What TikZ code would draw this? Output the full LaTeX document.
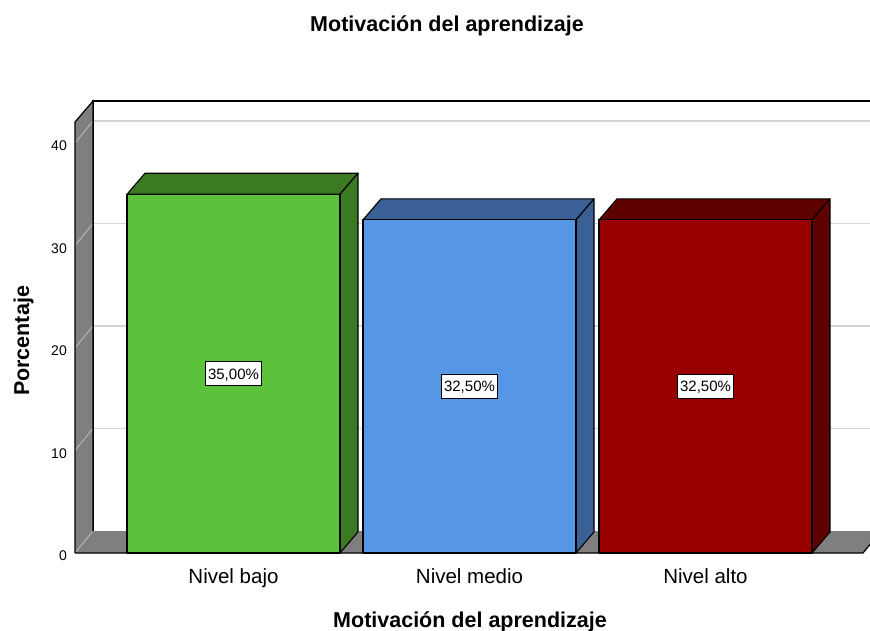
\documentclass[tikz,border=0pt]{standalone}
\usepackage{fontspec}
\setmainfont{Liberation Sans}
\usetikzlibrary{positioning}
\definecolor{wallgray}{HTML}{7F7F7F}
\definecolor{gridgray}{HTML}{D4D4D4}
\definecolor{sidegrid}{HTML}{B4B4B4}
\definecolor{bajoFront}{HTML}{5CC13B}
\definecolor{bajoDark}{HTML}{3B7A23}
\definecolor{medioFront}{HTML}{5596E5}
\definecolor{medioDark}{HTML}{3A6095}
\definecolor{altoFront}{HTML}{990000}
\definecolor{altoDark}{HTML}{5E0000}
\tikzset{
wall/.style={ % gray side wall and floor
fill=wallgray},
grid line/.style={ % lines on the back wall
draw=gridgray, line width=1.5pt},
side grid/.style={draw=sidegrid, line width=1pt},
frame/.style={draw=black, line width=1.2pt},
bar face/.style={ % each face of a bar
draw=black, line width=1.1pt, line join=round},
value label/.style={draw=black, fill=white, line width=1pt,
font=\fontsize{15}{17}\selectfont, inner xsep=3pt, inner ysep=6.5pt,
text height=11pt, text depth=0pt},
tick label/.style={anchor=east, inner sep=1pt,
font=\fontsize{14}{16}\selectfont},
category label/.style={anchor=base, font=\fontsize{20.5}{24}\selectfont},
axis title/.style={anchor=base, font=\fontsize{21.5}{24}\selectfont\bfseries}}

\begin{document}
\begin{tikzpicture}[x=1pt, y=-1pt]
	\useasboundingbox (0,0) rectangle (870,631);
	\clip (0,0) rectangle (870,631);
	% back wall
	\foreach \v in {10,20,30,40}
		\draw[grid line] (93,{531-10.25*\v}) -- (870,{531-10.25*\v});
	\draw[frame] (870,101) -- (93,101) -- (93,531);
	% left wall and floor
	\fill[wall] (75,553) -- (75,122) -- (93,101) -- (93,531) -- cycle;
	\fill[wall] (75,553) -- (93,531) -- (881,531) -- (863,553) -- cycle;
	\foreach \v in {0,10,...,40} {
		\draw[side grid] (75,{553-10.25*\v}) -- (93,{531-10.25*\v});
		\node[tick label] (tick\v) at (68,{556-10.25*\v}) {\v};
	}
	\draw[frame] (75,553) -- (75,122) -- (93,101) -- (93,531);
	\draw[frame] (75,553) -- (863,553) -- (881,531);
	% bars
	\foreach \x/\v/\fc/\dc/\lab/\cat/\id in {127/35/bajoFront/bajoDark/{35,00\%}/{Nivel bajo}/bajo,
		363/32.5/medioFront/medioDark/{32,50\%}/{Nivel medio}/medio,
		599/32.5/altoFront/altoDark/{32,50\%}/{Nivel alto}/alto} {
		\pgfmathsetmacro{\yt}{553-10.25*\v}
		\pgfmathsetmacro{\xb}{\x+213}
		\pgfmathsetmacro{\xm}{\x+106.5}
		\pgfmathsetmacro{\ym}{(553+\yt)/2}
		\filldraw[bar face, fill=\dc] (\x,\yt) -- ++(18,-21) -- ++(213,0) -- ++(-18,21) -- cycle;
		\filldraw[bar face, fill=\dc] (\xb,\yt) -- ++(18,-21) -- (\xb+18,532) -- (\xb,553) -- cycle;
		\filldraw[bar face, fill=\fc] (\x,553) rectangle (\xb,\yt);
		\node[value label] (val\id) at (\xm,\ym) {\lab};
		\node[category label] (cat\id) at (\xm,583) {\cat};
	}
	% titles
	\node[axis title] (title) at (447,32) {Motivación del aprendizaje};
	\node[axis title] (xtitle) at (470,627) {Motivación del aprendizaje};
	\node[axis title, rotate=90] (ytitle) at (29,341) {Porcentaje};
\end{tikzpicture}
\end{document}
